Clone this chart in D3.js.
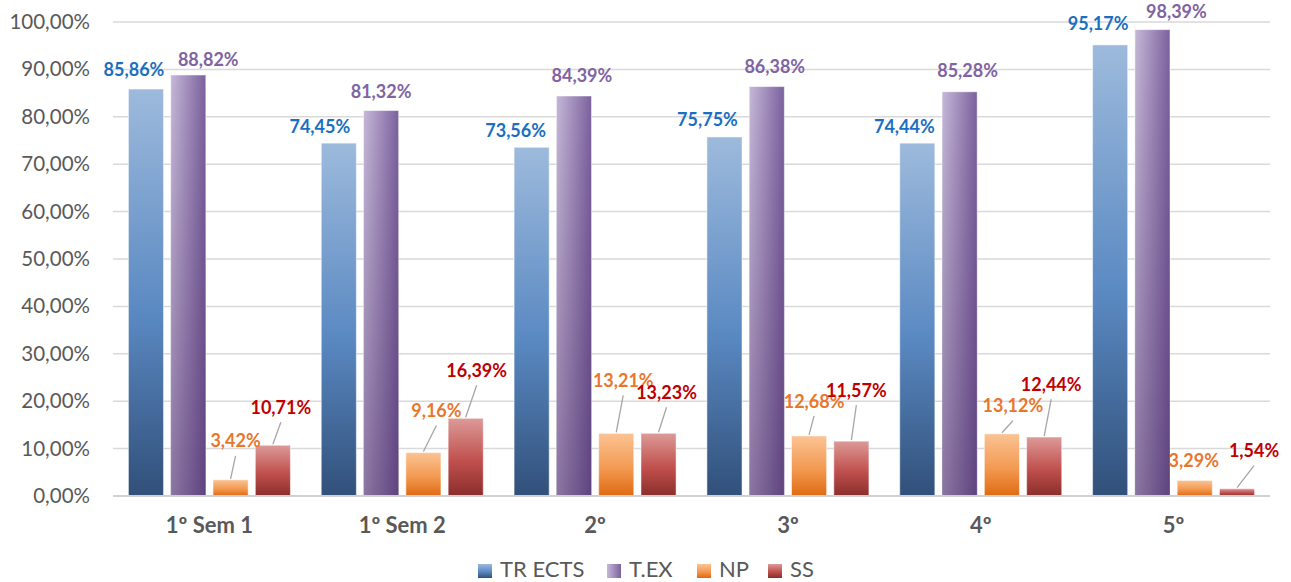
<!DOCTYPE html>
<html>
<head>
<meta charset="utf-8">
<script src="https://cdn.jsdelivr.net/npm/d3@7"></script>
<style>
  html, body { margin: 0; padding: 0; background: #fff; }
</style>
</head>
<body>
<div id="chart"></div>
<script>
// data
const categories = ["1º Sem 1", "1º Sem 2", "2º", "3º", "4º", "5º"];
const seriesNames = ["TR ECTS", "T.EX", "NP", "SS"];
const trEcts = [85.86, 74.45, 73.56, 75.75, 74.44, 95.17];
const tEx = [88.82, 81.32, 84.39, 86.38, 85.28, 98.39];
const np = [3.42, 9.16, 13.21, 12.68, 13.12, 3.29];
const ss = [10.71, 16.39, 13.23, 11.57, 12.44, 1.54];
const yTicks = [0, 10, 20, 30, 40, 50, 60, 70, 80, 90, 100];

const values = [trEcts, tEx, np, ss];

// label placement (px offset of label centre from bar centre / bar top)
const labelNudge = [
  [[-12, -18], [-19, -15], [-16, -15], [-17, -16], [-13, -15], [-12, -20]],
  [[20, -14], [0, -17], [8, -19], [8, -18], [8, -19], [24, -16]],
  [[5, -37], [13, -40], [7, -51], [5, -33], [11, -26], [-1, -18]],
  [[8, -36], [11, -46], [8, -39], [5, -49], [7, -51], [17, -36]],
];
const leaderLine = [
  [false, false, false, false, false, false],
  [false, false, false, false, false, false],
  [true, true, true, true, true, false],
  [true, true, true, true, true, true],
];

const width = 1291;
const height = 582;
const marginLeft = 113;
const marginRight = 21;
const marginTop = 22;
const marginBottom = 86;

const labelColors = ["#1b6fc1", "#8064a2", "#e8772e", "#c00000"];
const axisColor = "#595959";
const fontFamily = "Lato, 'Open Sans', sans-serif";

const fmt = (v) => v.toFixed(2).replace(".", ",") + "%";

const svg = d3
  .select("#chart")
  .append("svg")
  .attr("width", width)
  .attr("height", height)
  .attr("viewBox", [0, 0, width, height]);

// gradients
const defs = svg.append("defs");

function gradient(id, x2, y2, stops) {
  const g = defs
    .append("linearGradient")
    .attr("id", id)
    .attr("x1", "0%")
    .attr("y1", "0%")
    .attr("x2", x2)
    .attr("y2", y2);
  stops.forEach(([o, c, op]) =>
    g.append("stop").attr("offset", o).attr("stop-color", c).attr("stop-opacity", op == null ? 1 : op)
  );
}

gradient("g0", "0%", "100%", [["0%", "#9dbadc"], ["55%", "#5a89c2"], ["100%", "#31507a"]]);
gradient("g1", "100%", "0%", [["0%", "#c6b8d8"], ["100%", "#7c619e"]]);
gradient("g1shade", "0%", "100%", [["0%", "#321450", 0], ["100%", "#321450", 0.4]]);
gradient("g2", "0%", "100%", [["0%", "#fbc394"], ["55%", "#f39a52"], ["100%", "#df6a12"]]);
gradient("g3", "0%", "100%", [["0%", "#dc9a98"], ["55%", "#c0504d"], ["100%", "#8a2e2c"]]);

const fills = ["url(#g0)", "url(#g1)", "url(#g2)", "url(#g3)"];

// scales
const x0 = d3.scaleBand(categories, [marginLeft, width - marginRight]);
const x1 = d3.scaleBand(d3.range(seriesNames.length), [-81, 81]).paddingInner(0.17);
const y = d3.scaleLinear([0, 100], [height - marginBottom, marginTop]);

// gridlines
svg
  .append("g")
  .selectAll("line")
  .data(yTicks)
  .join("line")
  .attr("x1", marginLeft)
  .attr("x2", width - marginRight)
  .attr("y1", (d) => y(d))
  .attr("y2", (d) => y(d))
  .attr("stroke", "#d9d9d9")
  .attr("stroke-width", 1.5);

// y axis
const yAxis = d3
  .axisLeft(y)
  .tickValues(yTicks)
  .tickSize(0)
  .tickPadding(23)
  .tickFormat((d) => fmt(d));

svg
  .append("g")
  .attr("transform", `translate(${marginLeft},0)`)
  .call(yAxis)
  .call((g) => g.select(".domain").remove())
  .call((g) =>
    g
      .selectAll(".tick text")
      .attr("font-size", 20.5)
      .attr("font-family", fontFamily)
      .attr("fill", axisColor)
  );

// x axis
const xAxis = d3.axisBottom(x0).tickSize(0).tickPadding(21);

svg
  .append("g")
  .attr("transform", `translate(0,${height - marginBottom})`)
  .call(xAxis)
  .call((g) => g.select(".domain").remove())
  .call((g) =>
    g
      .selectAll(".tick text")
      .attr("font-size", 22)
      .attr("font-weight", 700)
      .attr("font-family", fontFamily)
      .attr("fill", axisColor)
  );

// bars
const groups = svg
  .append("g")
  .selectAll("g")
  .data(categories)
  .join("g")
  .attr("transform", (d) => `translate(${x0(d) + x0.bandwidth() / 2},0)`);

seriesNames.forEach((s, si) => {
  groups
    .append("rect")
    .attr("x", x1(si))
    .attr("y", (d, i) => y(values[si][i]))
    .attr("width", x1.bandwidth())
    .attr("height", (d, i) => y(0) - y(values[si][i]))
    .attr("fill", fills[si])
    .attr("stroke", "#ffffff")
    .attr("stroke-opacity", 0.5)
    .attr("stroke-width", 1);
  if (si === 1) {
    groups
      .append("rect")
      .attr("x", x1(si))
      .attr("y", (d, i) => y(values[si][i]))
      .attr("width", x1.bandwidth())
      .attr("height", (d, i) => y(0) - y(values[si][i]))
      .attr("fill", "url(#g1shade)");
  }
});

// baseline
svg
  .append("line")
  .attr("x1", marginLeft)
  .attr("x2", width - marginRight)
  .attr("y1", y(0))
  .attr("y2", y(0))
  .attr("stroke", "#d0d0d0")
  .attr("stroke-width", 2);

// leader lines + data labels
seriesNames.forEach((s, si) => {
  const cx = x1(si) + x1.bandwidth() / 2;
  groups
    .filter((d, i) => leaderLine[si][i])
    .append("line")
    .attr("x1", function (d) {
      const i = categories.indexOf(d);
      return cx + labelNudge[si][i][0];
    })
    .attr("y1", function (d) {
      const i = categories.indexOf(d);
      return y(values[si][i]) + labelNudge[si][i][1] + 13;
    })
    .attr("x2", cx)
    .attr("y2", (d) => y(values[si][categories.indexOf(d)]) - 1)
    .attr("stroke", "#a6a6a6")
    .attr("stroke-width", 1.3);

  groups
    .append("text")
    .attr("x", (d, i) => cx + labelNudge[si][i][0])
    .attr("y", (d, i) => y(values[si][i]) + labelNudge[si][i][1])
    .attr("text-anchor", "middle")
    .attr("dominant-baseline", "middle")
    .attr("font-family", fontFamily)
    .attr("font-weight", 700)
    .attr("font-size", 18)
    .attr("fill", labelColors[si])
    .text((d, i) => fmt(values[si][i]));
});

// legend
const legendX = [478, 607, 697, 768];
const legend = svg
  .append("g")
  .selectAll("g")
  .data(seriesNames)
  .join("g")
  .attr("transform", (d, i) => `translate(${legendX[i]},${height - 11})`);

legend
  .append("rect")
  .attr("x", 0)
  .attr("y", -7)
  .attr("width", 14)
  .attr("height", 14)
  .attr("fill", (d, i) => fills[i]);

legend
  .append("text")
  .attr("x", 22)
  .attr("y", 0)
  .attr("dominant-baseline", "middle")
  .attr("font-family", fontFamily)
  .attr("font-size", 22)
  .attr("fill", axisColor)
  .text((d) => d);
</script>
</body>
</html>
